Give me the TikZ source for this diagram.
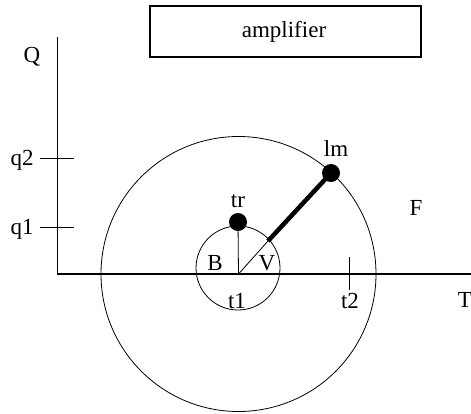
\documentclass[tikz,border=0pt]{standalone}
\usepackage{fontspec}
\setmainfont{Liberation Serif}
\begin{document}
\begin{tikzpicture}[x=1pt,y=-1pt,
  lbl/.style={font=\fontsize{23}{27}\selectfont, inner sep=0pt, anchor=base},
  dot/.style={circle, fill=black, draw=none, minimum size=18pt, inner sep=0pt},
  thin line/.style={line width=0.8pt},
  axis line/.style={line width=1.8pt}]
\useasboundingbox (0,0) rectangle (471,413);
% box
\node[draw, line width=1.2pt, minimum width=271pt, minimum height=51pt, inner sep=0pt] (amp) at (285.5,31.5) {};
\node[lbl] (amptext) at (284,37) {amplifier};
% axes
\coordinate (O) at (57,274);
\coordinate (Qtop) at (57,37);
\coordinate (Tend) at (471,274);
\draw[thin line] (O) -- (Qtop);
\draw[axis line] (O) -- (Tend);
% ticks
\coordinate (q2a) at (40,158); \coordinate (q2b) at (74,158);
\coordinate (q1a) at (40,227); \coordinate (q1b) at (74,227);
\coordinate (t2a) at (349,257); \coordinate (t2b) at (349,290);
\draw[thin line] (q2a) -- (q2b);
\draw[thin line] (q1a) -- (q1b);
\draw[thin line] (t2a) -- (t2b);
% circles
\coordinate (C) at (238.5,274);
\draw[thin line] (C) circle[radius=137.5];
\coordinate (c) at (238,268);
\draw[thin line] (c) circle[radius=42];
% dots
\node[dot] (tr) at (238,222) {};
\node[dot] (lm) at (331,173) {};
\coordinate (V1) at (268,241);
\draw[thin line] (C) -- (tr);
\draw[thin line] (C) -- (V1);
\draw[line width=4.5pt] (V1) -- (lm.center);
% labels
\node[lbl] (Q) at (32,62) {Q};
\node[lbl] (q2) at (22,165) {q2};
\node[lbl] (q1) at (22,234) {q1};
\node[lbl] (trl) at (238,207) {tr};
\node[lbl] (lml) at (336,156) {lm};
\node[lbl] (B) at (215,270) {B};
\node[lbl] (V) at (267,270) {V};
\node[lbl] (t1) at (237,308) {t1};
\node[lbl] (t2) at (350,308) {t2};
\node[lbl] (T) at (465,307) {T};
\node[lbl] (F) at (416,215) {F};
\end{tikzpicture}
\end{document}
